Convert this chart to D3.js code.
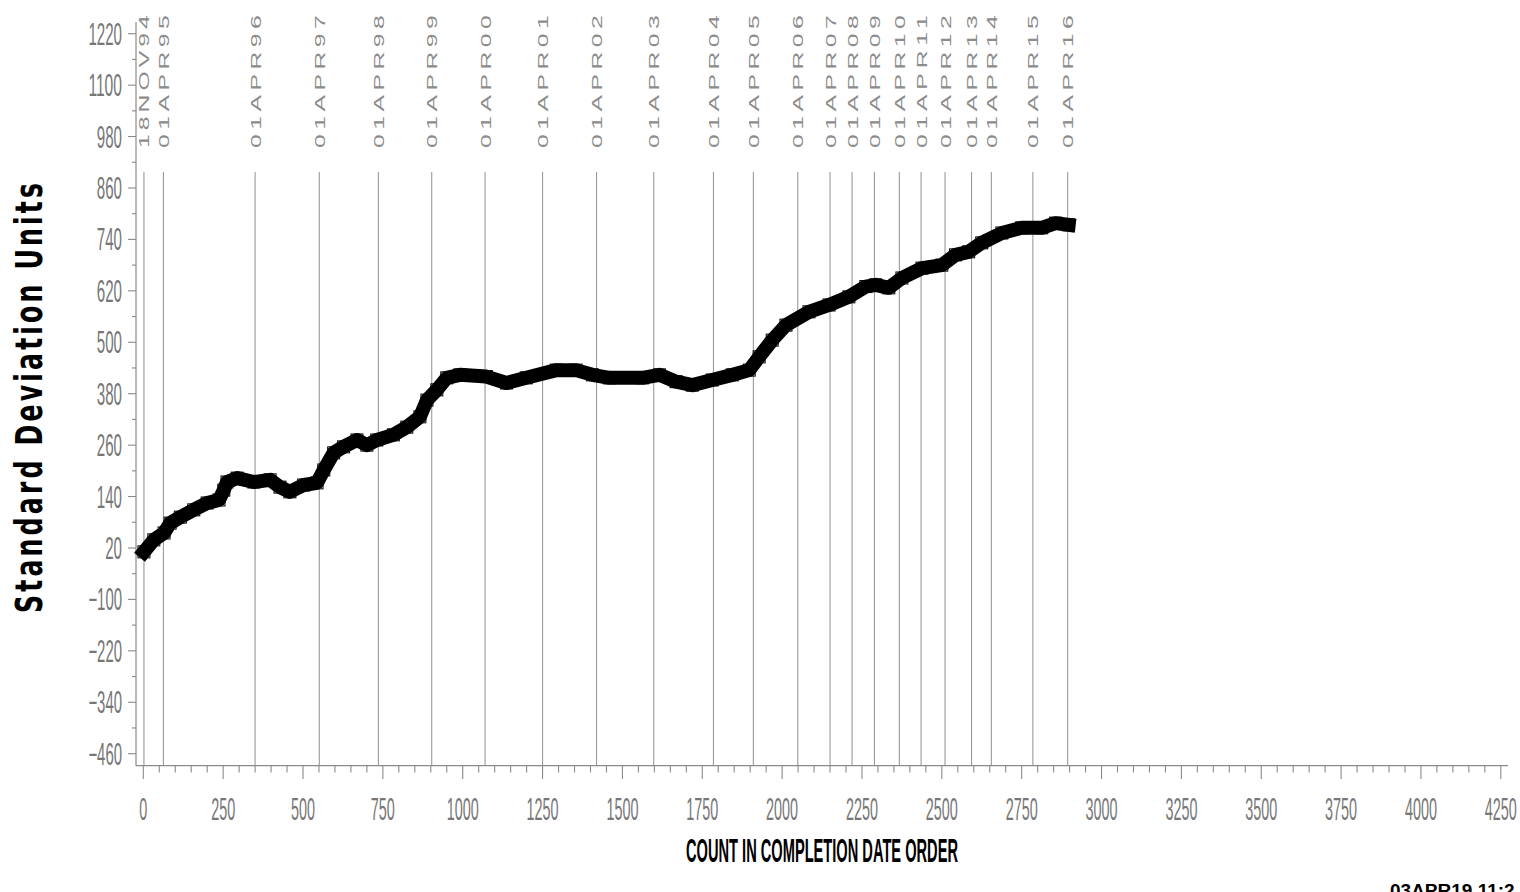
<!DOCTYPE html>
<html>
<head>
<meta charset="utf-8">
<script src="https://cdn.jsdelivr.net/npm/d3@7/dist/d3.min.js"></script>
<style>
  html, body { margin: 0; padding: 0; background: #fff; overflow: hidden; }
  svg { display: block; }
</style>
</head>
<body>
<svg id="chart" width="1520" height="892"></svg>
<script>
// ---- data ----
const counts = [2,33,65,84,116,158,200,237,252,262,294,346,397,428,459,502,544,565,596,627,669,700,731,783,825,866,888,919,950,991,1074,1137,1199,1293,1355,1406,1459,1563,1616,1668,1719,1781,1844,1897,1928,1969,2012,2084,2147,2209,2262,2293,2334,2375,2438,2500,2543,2584,2625,2688,2750,2813,2856,2897];
const values = [11,39,55,78,92,109,125,132,155,174,183,174,179,162,151,167,172,202,242,256,272,260,272,284,302,326,365,389,417,424,420,405,417,435,435,424,417,417,424,408,400,412,424,435,466,505,540,571,587,606,630,634,627,650,673,680,704,711,732,755,767,767,778,774];

const refCounts = [2,63,350,551,736,903,1070,1250,1419,1598,1785,1910,2049,2150,2219,2289,2367,2435,2510,2593,2655,2785,2894];
const refLabels = ["18NOV94","01APR95","01APR96","01APR97","01APR98","01APR99","01APR00","01APR01","01APR02","01APR03","01APR04","01APR05","01APR06","01APR07","01APR08","01APR09","01APR10","01APR11","01APR12","01APR13","01APR14","01APR15","01APR16"];

const yTicks = [-460,-340,-220,-100,20,140,260,380,500,620,740,860,980,1100,1220];
const xTicks = [0,250,500,750,1000,1250,1500,1750,2000,2250,2500,2750,3000,3250,3500,3750,4000,4250];

const yTitle = "Standard Deviation Units";
const xTitle = "COUNT IN COMPLETION DATE ORDER";
const stamp = "03APR19 11:2";

// ---- scales ----
const x = d3.scaleLinear().domain([0, 4250]).range([143.3, 1500.8]);
const y = d3.scaleLinear().domain([-460, 1220]).range([753.7, 33.7]);

const svg = d3.select("#chart");
const axisColor = "#8a8a8a";
const textColor = "#777";
const fmt = d3.format("d");

// ---- reference lines ----
svg.append("g").selectAll("line").data(refCounts).join("line")
  .attr("x1", d => x(d)).attr("x2", d => x(d))
  .attr("y1", 172).attr("y2", 765.7)
  .attr("stroke", "#9a9a9a").attr("stroke-width", 1.1);

// ---- reference labels (rotated) ----
svg.append("g").selectAll("text").data(refCounts).join("text")
  .attr("transform", d => `translate(${x(d)},148) rotate(-90) scale(1.6,1)`)
  .attr("y", 5.5)
  .attr("font-family", "Liberation Sans, Arial, sans-serif")
  .attr("font-size", 15.5)
  .attr("fill", "#8c8c8c")
  .attr("textLength", 83)
  .attr("lengthAdjust", "spacing")
  .text((d, i) => refLabels[i]);

// ---- y axis ----
const gy = svg.append("g");
gy.append("line").attr("x1", 136).attr("x2", 136).attr("y1", 22).attr("y2", 765.7)
  .attr("stroke", axisColor).attr("stroke-width", 1.2);
gy.selectAll("line.maj").data(yTicks).join("line").attr("class", "maj")
  .attr("x1", 128).attr("x2", 136).attr("y1", d => y(d)).attr("y2", d => y(d))
  .attr("stroke", axisColor).attr("stroke-width", 1.1);
gy.selectAll("line.min").data(yTicks.slice(0, -1)).join("line").attr("class", "min")
  .attr("x1", 132).attr("x2", 136).attr("y1", d => y(d + 60)).attr("y2", d => y(d + 60))
  .attr("stroke", axisColor).attr("stroke-width", 1.1);
gy.selectAll("text").data(yTicks).join("text")
  .attr("x", 122).attr("y", d => y(d) + 11)
  .attr("text-anchor", "end")
  .attr("font-family", "Liberation Sans, Arial, sans-serif")
  .attr("font-size", 31).attr("fill", textColor)
  .attr("textLength", d => fmt(d).length * 8.4)
  .attr("lengthAdjust", "spacingAndGlyphs")
  .text(d => fmt(d));

// ---- x axis ----
const gx = svg.append("g");
gx.append("line").attr("x1", 136).attr("x2", 1508).attr("y1", 765.7).attr("y2", 765.7)
  .attr("stroke", axisColor).attr("stroke-width", 1.2);
gx.selectAll("line.maj").data(xTicks).join("line").attr("class", "maj")
  .attr("x1", d => x(d)).attr("x2", d => x(d)).attr("y1", 765.7).attr("y2", 779)
  .attr("stroke", axisColor).attr("stroke-width", 1.1);
const minorX = [];
xTicks.slice(0, -1).forEach(t => { [50, 100, 150, 200].forEach(o => minorX.push(t + o)); });
gx.selectAll("line.min").data(minorX).join("line").attr("class", "min")
  .attr("x1", d => x(d)).attr("x2", d => x(d)).attr("y1", 765.7).attr("y2", 772.5)
  .attr("stroke", axisColor).attr("stroke-width", 1.1);
gx.selectAll("text").data(xTicks).join("text")
  .attr("x", d => x(d)).attr("y", 820)
  .attr("text-anchor", "middle")
  .attr("font-family", "Liberation Sans, Arial, sans-serif")
  .attr("font-size", 32).attr("fill", textColor)
  .attr("textLength", d => fmt(d).length * 8.0)
  .attr("lengthAdjust", "spacingAndGlyphs")
  .text(d => fmt(d));

// ---- data series ----
const pts = counts.map((c, i) => [c, values[i]]);
const line = d3.line().x(d => x(d[0])).y(d => y(d[1]));
svg.append("path").datum(pts)
  .attr("d", line)
  .attr("fill", "none").attr("stroke", "#000")
  .attr("stroke-width", 14).attr("stroke-linejoin", "round").attr("stroke-linecap", "square");
svg.append("g").selectAll("rect").data(pts).join("rect")
  .attr("x", d => x(d[0]) - 6).attr("y", d => y(d[1]) - 6)
  .attr("width", 12).attr("height", 12)
  .attr("fill", "none").attr("stroke", "#000").attr("stroke-width", 1);

// ---- titles ----
svg.append("text")
  .attr("transform", "translate(42,398) rotate(-90) scale(1,1.3)")
  .attr("text-anchor", "middle")
  .attr("font-family", "Liberation Sans Narrow, DejaVu Sans Condensed, Arial, sans-serif")
  .attr("font-weight", "bold")
  .attr("font-size", 28).attr("fill", "#000")
  .attr("textLength", 430).attr("lengthAdjust", "spacing")
  .text(yTitle);

svg.append("text")
  .attr("x", 822).attr("y", 862)
  .attr("text-anchor", "middle")
  .attr("font-family", "Liberation Sans Narrow, Liberation Sans, Arial, sans-serif")
  .attr("font-weight", "bold")
  .attr("font-size", 33).attr("fill", "#000")
  .attr("textLength", 272).attr("lengthAdjust", "spacingAndGlyphs")
  .text(xTitle);

svg.append("text")
  .attr("x", 1390).attr("y", 897)
  .attr("font-family", "Liberation Sans, Arial, sans-serif")
  .attr("font-weight", "bold")
  .attr("font-size", 19).attr("fill", "#000")
  .text(stamp);
</script>
</body>
</html>
